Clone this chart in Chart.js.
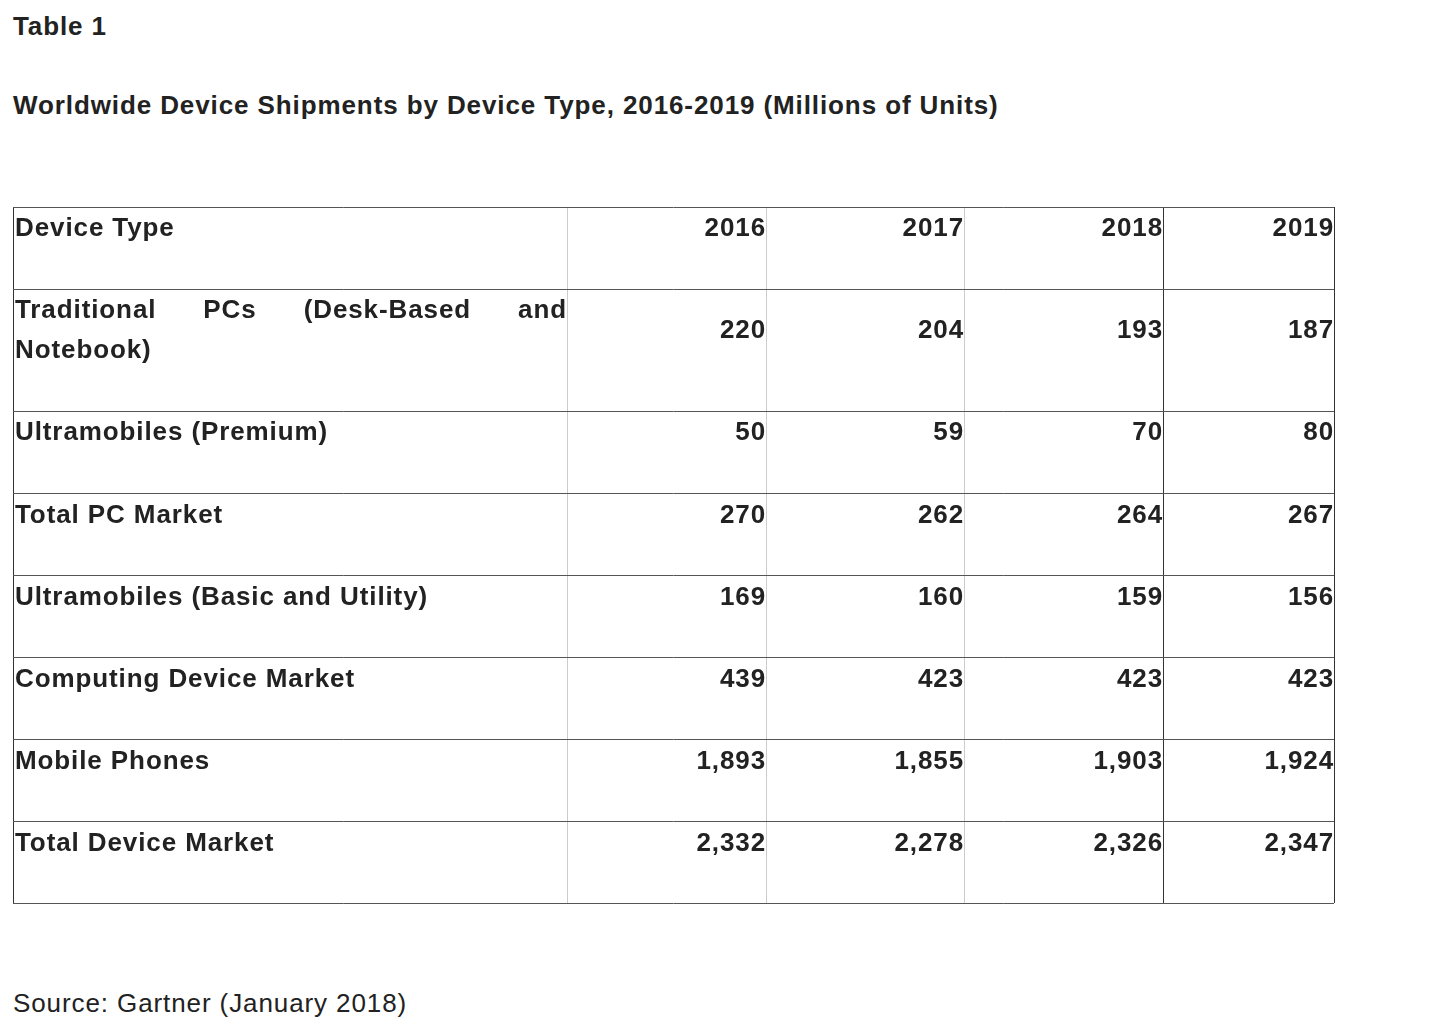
<!DOCTYPE html>
<html>
<head>
<meta charset="utf-8">
<script src="https://cdn.jsdelivr.net/npm/chart.js@4"></script>
<style>
body { margin:0; background:#fff; font-family:"Liberation Sans", Arial, sans-serif; color:#222; }
.t { position:absolute; left:13px; font-weight:bold; font-size:26px; letter-spacing:0.9px; }
#wrap { position:absolute; left:12px; top:206px; width:1323px; height:698px; }
</style>
</head>
<body>
<div class="t" style="top:11px">Table 1</div>
<div class="t" style="top:90px">Worldwide Device Shipments by Device Type, 2016-2019 (Millions of Units)</div>
<div class="t" style="top:988px;font-weight:normal">Source: Gartner (January 2018)</div>
<div id="wrap"><canvas id="tbl"></canvas></div>
<script>
var headerLabel = "Device Type";
var years = ["2016", "2017", "2018", "2019"];
var deviceTypes = ["Traditional PCs (Desk-Based and Notebook)", "Ultramobiles (Premium)", "Total PC Market",
    "Ultramobiles (Basic and Utility)", "Computing Device Market", "Mobile Phones", "Total Device Market"];
var v2016 = ["220", "50", "270", "169", "439", "1,893", "2,332"];
var v2017 = ["204", "59", "262", "160", "423", "1,855", "2,278"];
var v2018 = ["193", "70", "264", "159", "423", "1,903", "2,326"];
var v2019 = ["187", "80", "267", "156", "423", "1,924", "2,347"];

// layout: column / row edges in pixels of the table box
var colEdges = [0, 554, 753, 951, 1150, 1321];
var rowEdges = [0, 82, 204, 286, 368, 450, 532, 614, 695];

var font = "bold 26px 'Liberation Sans', Arial, sans-serif";

var cellPlugin = {
    id: 'cells',
    afterDraw: function(chart) {
        var ctx = chart.ctx, x = chart.scales.x, y = chart.scales.y;
        var cols = [v2016, v2017, v2018, v2019];
        ctx.save();
        ctx.font = font;
        ctx.letterSpacing = '0.9px';
        ctx.fillStyle = '#222';
        ctx.textBaseline = 'middle';
        // header
        ctx.textAlign = 'left';
        ctx.fillText(headerLabel, x.getPixelForValue(colEdges[0]) + 2, y.getPixelForValue(rowEdges[0]) + 22);
        ctx.textAlign = 'right';
        for (var c = 0; c < years.length; c++) {
            ctx.fillText(years[c], x.getPixelForValue(colEdges[c + 2]), y.getPixelForValue(rowEdges[0]) + 22);
        }
        for (var r = 0; r < deviceTypes.length; r++) {
            var top = y.getPixelForValue(rowEdges[r + 1]);
            var left = x.getPixelForValue(colEdges[0]) + 2;
            var right = x.getPixelForValue(colEdges[1]);
            ctx.textAlign = 'left';
            if (r === 0) {
                // justified two-line label
                var words = ["Traditional", "PCs", "(Desk-Based", "and"];
                var total = 0;
                words.forEach(function(w) { total += ctx.measureText(w).width; });
                var gap = (right - left - total) / (words.length - 1);
                var px = left;
                words.forEach(function(w) { ctx.fillText(w, px, top + 22); px += ctx.measureText(w).width + gap; });
                ctx.fillText("Notebook)", left, top + 62);
            } else {
                ctx.fillText(deviceTypes[r], left, top + 22);
            }
            ctx.textAlign = 'right';
            var vy = r === 0 ? top + 42 : top + 22;
            for (var c = 0; c < cols.length; c++) {
                ctx.fillText(cols[c][r], x.getPixelForValue(colEdges[c + 2]), vy);
            }
        }
        ctx.restore();
    }
};

new Chart(document.getElementById('tbl'), {
    type: 'scatter',
    data: { datasets: [{ data: [], pointRadius: 0 }] },
    plugins: [cellPlugin],
    options: {
        responsive: true,
        maintainAspectRatio: false,
        animation: false,
        layout: { padding: { left: 1, right: 1, top: 1, bottom: 1 } },
        plugins: { legend: { display: false }, tooltip: { enabled: false } },
        scales: {
            x: {
                type: 'linear', min: 0, max: 1321,
                afterBuildTicks: function(s) { s.ticks = colEdges.map(function(v) { return { value: v }; }); },
                ticks: { display: false },
                border: { display: false },
                grid: {
                    drawTicks: false, lineWidth: 1,
                    color: function(c) { var i = c.index; return (i === 0 || i === 4 || i === 5) ? '#333' : '#ccc'; }
                }
            },
            y: {
                type: 'linear', min: 0, max: 695, reverse: true,
                afterBuildTicks: function(s) { s.ticks = rowEdges.map(function(v) { return { value: v }; }); },
                ticks: { display: false },
                border: { display: false },
                grid: { drawTicks: false, lineWidth: 1, color: '#555' }
            }
        }
    }
});
</script>
</body>
</html>
